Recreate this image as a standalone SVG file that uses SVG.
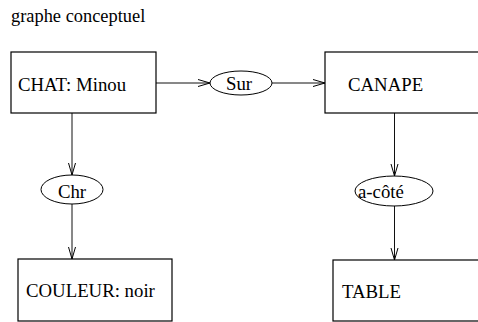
<svg xmlns="http://www.w3.org/2000/svg" width="478" height="322" viewBox="0 0 478 322">
<defs>
<style>
text{font-family:"Liberation Serif","Times New Roman",serif;font-size:18.8px;fill:#000}
.title{font-size:18.4px}
.box{fill:none;stroke:#000;stroke-width:1.2}
.rel{fill:none;stroke:#000;stroke-width:1}
.edge{fill:none;stroke:#111;stroke-width:1;marker-end:url(#arr)}
</style>
<marker id="arr" markerUnits="userSpaceOnUse" markerWidth="14" markerHeight="9" refX="12" refY="3.5" orient="auto" overflow="visible">
<path d="M0,0 L12,3.5 L0,7" fill="none" stroke="#000" stroke-width="1"/>
</marker>
</defs>
<rect width="478" height="322" fill="#fff"/>
<text class="title" x="11" y="22">graphe conceptuel</text>
<g id="connectors">
<line class="edge" x1="156" y1="83" x2="210" y2="83"/>
<line class="edge" x1="272" y1="83" x2="325" y2="83"/>
<line class="edge" x1="72" y1="113" x2="72" y2="175"/>
<line class="edge" x1="72" y1="204" x2="72" y2="259"/>
<line class="edge" x1="394.5" y1="113" x2="394.5" y2="176"/>
<line class="edge" x1="394.5" y1="206" x2="394.5" y2="260"/>
</g>
<g id="chat">
<rect class="box" x="11" y="52" width="145" height="61"/>
<text x="18" y="91">CHAT: Minou</text>
</g>
<g id="sur">
<ellipse class="rel" cx="241" cy="83" rx="31" ry="12"/>
<text x="226" y="90">Sur</text>
</g>
<g id="canape">
<rect class="box" x="325" y="52" width="160" height="61"/>
<text x="348" y="91">CANAPE</text>
</g>
<g id="chr">
<ellipse class="rel" cx="72" cy="189.5" rx="31" ry="14.5"/>
<text x="72" y="198" text-anchor="middle">Chr</text>
</g>
<g id="acote">
<ellipse class="rel" cx="394" cy="191" rx="39" ry="15"/>
<text x="358" y="198">a-côté</text>
</g>
<g id="couleur">
<rect class="box" x="18" y="259" width="154" height="62"/>
<text x="26" y="297">COULEUR: noir</text>
</g>
<g id="table">
<rect class="box" x="333" y="260" width="160" height="61"/>
<text x="342" y="298">TABLE</text>
</g>
</svg>
